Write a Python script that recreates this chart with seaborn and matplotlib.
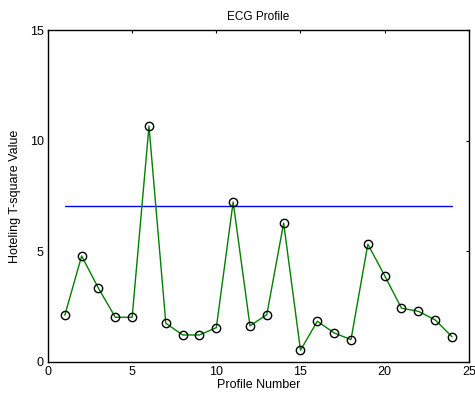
import matplotlib
matplotlib.use("Agg")

import matplotlib.pyplot as plt
import seaborn as sns
import pandas as pd

# Hotelling T-square per profile
profile_no = list(range(1, 25))
t_square = [2.11, 4.79, 3.33, 2.02, 2.02, 10.66, 1.75, 1.22, 1.22, 1.55,
            7.23, 1.63, 2.14, 6.28, 0.53, 1.84, 1.31, 1.01, 5.32, 3.90,
            2.43, 2.29, 1.90, 1.14]
limit_x = [1, 24]
limit_y = [7.05, 7.05]

sns.set_theme(style="white")
plt.rcParams["font.family"] = ["Liberation Sans", "DejaVu Sans"]
plt.rcParams["text.color"] = "black"
plt.rcParams["axes.labelcolor"] = "black"

df = pd.DataFrame({"profile": profile_no, "t2": t_square})

fig = plt.figure(figsize=(4.75, 3.96), dpi=100)
ax = fig.add_axes([0.101, 0.086, 0.886, 0.838])

sns.lineplot(x=limit_x, y=limit_y, color="blue", linewidth=1, ax=ax)
sns.lineplot(data=df, x="profile", y="t2", color="green", linewidth=1,
             marker="o", markersize=6, markerfacecolor="none",
             markeredgecolor="black", markeredgewidth=1, ax=ax)

ax.set_xlim(0, 25)
ax.set_ylim(0, 15)
ax.set_xticks([0, 5, 10, 15, 20, 25])
ax.set_yticks([0, 5, 10, 15])
ax.tick_params(direction="in", top=True, right=True, length=2.5, width=0.8,
               labelsize=9, colors="black", pad=3)
for s in ax.spines.values():
    s.set_visible(True)
    s.set_color("black")
    s.set_linewidth(1)

ax.set_title("ECG Profile", fontsize=8.5, pad=7)
ax.set_xlabel("Profile Number", fontsize=9, labelpad=1)
ax.set_ylabel("Hoteling T-square Value", fontsize=9, labelpad=6)

fig.savefig("out.png", dpi=100)
